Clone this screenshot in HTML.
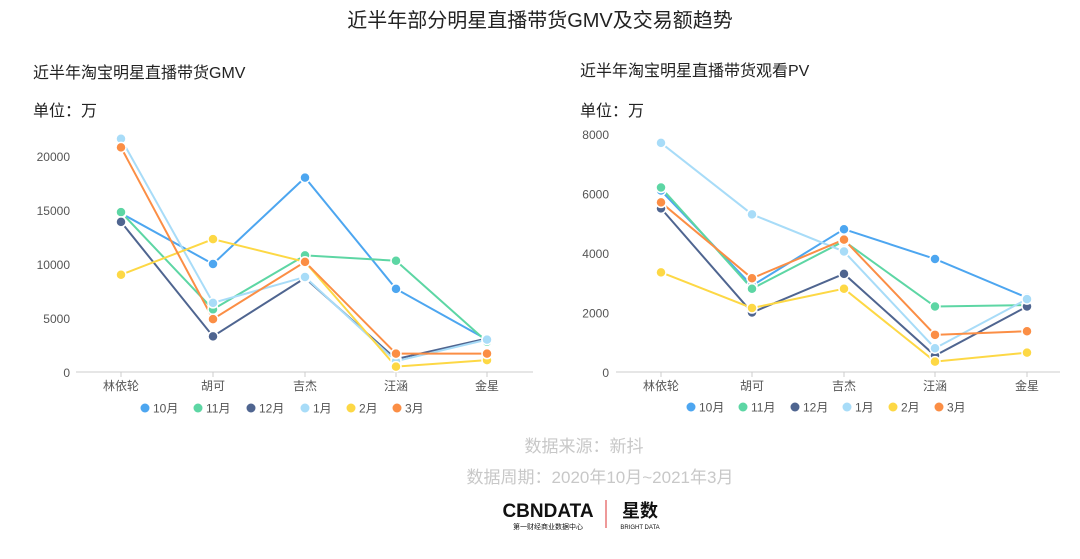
<!DOCTYPE html>
<html><head><meta charset="utf-8"><style>
body{margin:0;width:1080px;height:554px;background:#fff;overflow:hidden;font-family:"Liberation Sans","Noto Sans CJK SC",sans-serif;}
svg text{font-family:"Liberation Sans","Noto Sans CJK SC",sans-serif;}
</style></head><body>
<svg id="s" width="1080" height="554" xmlns="http://www.w3.org/2000/svg">
<text x="540" y="27" font-size="20" text-anchor="middle" fill="#222">近半年部分明星直播带货GMV及交易额趋势</text>
<text x="33" y="78" font-size="16" fill="#222">近半年淘宝明星直播带货GMV</text>
<text x="33" y="116" font-size="16" fill="#222">单位：万</text>
<text x="580" y="76" font-size="16" fill="#222">近半年淘宝明星直播带货观看PV</text>
<text x="580" y="116" font-size="16" fill="#222">单位：万</text>
<text x="584" y="452" font-size="17" text-anchor="middle" fill="#c8c8c8">数据来源：新抖</text>
<text x="600" y="483" font-size="17" text-anchor="middle" fill="#c8c8c8">数据周期：2020年10月~2021年3月</text>
<text x="548" y="517" font-size="19" font-weight="bold" text-anchor="middle" fill="#111">CBNDATA</text>
<text x="548" y="529" font-size="7" text-anchor="middle" fill="#111">第一财经商业数据中心</text>
<line x1="606" y1="500" x2="606" y2="528" stroke="#d33" stroke-width="1"/>
<text x="640" y="517" font-size="18" font-weight="bold" text-anchor="middle" fill="#111">星数</text>
<text x="640" y="529" font-size="6" text-anchor="middle" fill="#111">BRIGHT DATA</text>
</svg>
<script>
const NS="http://www.w3.org/2000/svg",s=document.getElementById('s');
function el(t,a,txt){const e=document.createElementNS(NS,t);for(const k in a)e.setAttribute(k,a[k]);if(txt!=null)e.textContent=txt;s.appendChild(e);return e;}
const cols=['#4da6f0','#5dd6a4','#4f6590','#a8dcf8','#fdd845','#fb8e45'];
const names=['10月','11月','12月','1月','2月','3月'];
const cats=['林依轮','胡可','吉杰','汪涵','金星'];
function chart(o){
  el('line',{x1:o.x0,y1:o.y0,x2:o.x1,y2:o.y0,stroke:'#ccc','stroke-width':1});
  o.ticks.forEach(t=>el('text',{x:o.tx,y:o.y0-t*o.k+5,'font-size':12,'text-anchor':'end',fill:'#555'},t));
  o.xs.forEach((x,i)=>{el('line',{x1:x,y1:o.y0,x2:x,y2:o.y0+5,stroke:'#ccc'});el('text',{x:x,y:o.y0+18,'font-size':12,'text-anchor':'middle',fill:'#555'},cats[i]);});
  o.data.forEach((d,j)=>{
    el('polyline',{points:d.map((v,i)=>o.xs[i]+','+(o.y0-v*o.k)).join(' '),fill:'none',stroke:cols[j],'stroke-width':2});
  });
  o.data.forEach((d,j)=>d.forEach((v,i)=>el('circle',{cx:o.xs[i],cy:o.y0-v*o.k,r:5,fill:cols[j],stroke:'#fff','stroke-width':1.5})));
  o.leg.forEach((x,j)=>{el('circle',{cx:x,cy:o.ly,r:4.5,fill:cols[j]});el('text',{x:x+8,y:o.ly+4.5,'font-size':12,fill:'#555'},names[j]);});
}
chart({x0:76,x1:533,y0:372,k:0.0108,tx:70,ticks:[0,5000,10000,15000,20000],xs:[121,213,305,396,487],ly:408,
 leg:[145,198,251,305,351,397],
 data:[[14700,10000,18000,7700,3000],[14800,5800,10800,10300,2800],[13900,3300,8700,1200,3100],[21600,6400,8800,1000,3000],[9000,12300,10200,500,1100],[20800,4900,10200,1700,1700]]});
chart({x0:616,x1:1060,y0:372,k:0.02975,tx:609,ticks:[0,2000,4000,6000,8000],xs:[661,752,844,935,1027],ly:407,
 leg:[691,743,795,847,893,939],
 data:[[6100,2900,4800,3800,2500],[6200,2800,4400,2200,2250],[5500,2000,3300,550,2200],[7700,5300,4050,800,2450],[3350,2150,2800,350,650],[5700,3150,4450,1250,1370]]});
</script>
</body></html>
